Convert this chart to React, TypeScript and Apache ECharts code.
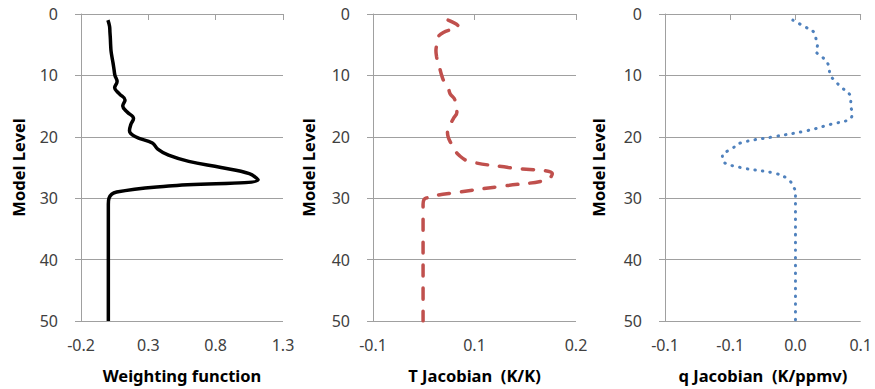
import React, { useEffect, useRef } from "react";
import * as echarts from "echarts";

const levels = [
  1, 2, 3, 4, 5, 6, 7, 8, 9, 10, 11, 12, 13, 14, 15, 16, 17, 18, 19, 20, 21, 22, 23, 24, 25,
  26, 27, 28, 29, 30, 31, 32, 33, 34, 35, 36, 37, 38, 39, 40, 41, 42, 43, 44, 45, 46, 47, 48, 49, 50,
];

const weighting = [
  0.0, 0.012, 0.015, 0.018, 0.02, 0.023, 0.03, 0.038, 0.045, 0.052,
  0.068, 0.05, 0.085, 0.127, 0.11, 0.145, 0.19, 0.17, 0.16, 0.205,
  0.33, 0.37, 0.45, 0.6, 0.84, 1.05, 1.115, 0.45, 0.065, 0.008,
  0.003, 0.003, 0.003, 0.003, 0.003, 0.003, 0.003, 0.003, 0.003, 0.003,
  0.003, 0.003, 0.003, 0.003, 0.003, 0.003, 0.003, 0.003, 0.003, 0.003,
];

const tJacobian = [
  0.011, 0.026, 0.004, -0.005, -0.006, -0.007, -0.006, -0.004, -0.001, 0.0015,
  0.005, 0.011, 0.014, 0.021, 0.022, 0.024, 0.019, 0.014, 0.01, 0.011,
  0.015, 0.02, 0.027, 0.042, 0.1, 0.165, 0.158, 0.094, 0.028, -0.022,
  -0.026, -0.026, -0.026, -0.026, -0.026, -0.026, -0.026, -0.026, -0.026, -0.026,
  -0.026, -0.026, -0.026, -0.026, -0.026, -0.026, -0.026, -0.026, -0.026, -0.026,
];

const qJacobian = [
  -0.002, 0.0065, 0.0144, 0.0157, 0.0169, 0.0157, 0.0206, 0.0246, 0.0258, 0.0268,
  0.0308, 0.0355, 0.0412, 0.0424, 0.0424, 0.0434, 0.0424, 0.0263, 0.009, -0.017,
  -0.042, -0.049, -0.056, -0.0554, -0.042, -0.0146, -0.0051, -0.002, 0.0, 0.0,
  0.0, 0.0, 0.0, 0.0, 0.0, 0.0, 0.0, 0.0, 0.0, 0.0,
  0.0, 0.0, 0.0, 0.0, 0.0, 0.0, 0.0, 0.0, 0.0, 0.0,
];

const wfTicks = [-0.2, 0.3, 0.8, 1.3];
const wfLabels = ["-0.2", "0.3", "0.8", "1.3"];
const tTicks = [-0.1, 0.05, 0.2];
const tLabels = ["-0.1", "0.1", "0.2"];
const qTicks = [-0.1, -0.05, 0, 0.05];
const qLabels = ["-0.1", "-0.1", "0.0", "0.1"];
const levelTicks = [0, 10, 20, 30, 40, 50];

const xTitles = ["Weighting function", "T Jacobian  (K/K)", "q Jacobian  (K/ppmv)"];
const yTitle = "Model Level";

const FONT = "'Noto Sans', 'DejaVu Sans', sans-serif";
const GRID_COLOR = "#a0a0a0";
const LABEL_COLOR = "#404040";

function labelFor(ticks: number[], labels: string[]) {
  return (v: number) => {
    const i = ticks.findIndex((t) => Math.abs(t - v) < 1e-9);
    return i >= 0 ? labels[i] : "";
  };
}

export default function App() {
  const ref = useRef<HTMLDivElement>(null);

  useEffect(() => {
    if (!ref.current) return;
    const chart = echarts.init(ref.current, undefined, { renderer: "svg" });

    const grids = [
      { left: 81, top: 14, width: 202, height: 307 },
      { left: 373, top: 14, width: 203, height: 307 },
      { left: 665, top: 14, width: 202, height: 307 },
    ];
    const xDefs = [
      { min: -0.2, max: 1.3, ticks: wfTicks, labels: wfLabels },
      { min: -0.1, max: 0.2, ticks: tTicks, labels: tLabels },
      { min: -0.1, max: 0.05, ticks: qTicks, labels: qLabels },
    ];
    const nameGaps = [54, 56, 58];

    const xAxis = xDefs.map((d, i) => ({
      type: "value",
      gridIndex: i,
      min: d.min,
      max: d.max,
      name: xTitles[i],
      nameLocation: "middle",
      nameGap: 46,
      nameTextStyle: { fontFamily: FONT, fontWeight: "bold", fontSize: 16.5, color: "#000" },
      axisLine: { show: true, lineStyle: { color: GRID_COLOR, width: 1 } },
      axisTick: { show: true, length: 6, customValues: d.ticks, lineStyle: { color: GRID_COLOR } },
      axisLabel: {
        customValues: d.ticks,
        formatter: labelFor(d.ticks, d.labels),
        fontFamily: FONT,
        fontSize: 16,
        color: LABEL_COLOR,
        margin: 16,
      },
      splitLine: { show: false },
    }));

    const yAxis = grids.map((_, i) => ({
      type: "value",
      gridIndex: i,
      inverse: true,
      min: 0,
      max: 50,
      interval: 10,
      name: yTitle,
      nameLocation: "middle",
      nameGap: nameGaps[i],
      nameTextStyle: { fontFamily: FONT, fontWeight: "bold", fontSize: 16.5, color: "#000" },
      axisLine: { show: true, onZero: false, lineStyle: { color: GRID_COLOR, width: 1 } },
      axisTick: { show: true, length: 6, lineStyle: { color: GRID_COLOR } },
      axisLabel: {
        fontFamily: FONT,
        fontSize: 16,
        color: LABEL_COLOR,
        margin: 23,
        customValues: levelTicks,
      },
      splitLine: { show: true, lineStyle: { color: GRID_COLOR, width: 1 } },
    }));

    const mk = (vals: number[]) => vals.map((v, k) => [v, levels[k]]);

    const series = [
      {
        type: "line",
        xAxisIndex: 0,
        yAxisIndex: 0,
        data: mk(weighting),
        smooth: 0.4,
        showSymbol: false,
        lineStyle: { color: "#000000", width: 3.5 },
      },
      {
        type: "line",
        xAxisIndex: 1,
        yAxisIndex: 1,
        data: mk(tJacobian),
        smooth: 0.4,
        showSymbol: false,
        lineStyle: { color: "#c0504d", width: 3.5, type: [11, 12], cap: "round" },
      },
      {
        type: "line",
        xAxisIndex: 2,
        yAxisIndex: 2,
        data: mk(qJacobian),
        smooth: 0.4,
        showSymbol: false,
        lineStyle: { color: "#4f81bd", width: 3, type: [0.5, 7.2], cap: "round" },
      },
    ];

    chart.setOption({
      animation: false,
      backgroundColor: "#ffffff",
      grid: grids,
      xAxis,
      yAxis,
      series,
    } as any);

    return () => chart.dispose();
  }, []);

  return (
    <div
      ref={ref}
      style={{ position: "fixed", left: 0, top: 0, width: 875, height: 389, background: "#fff" }}
    />
  );
}
